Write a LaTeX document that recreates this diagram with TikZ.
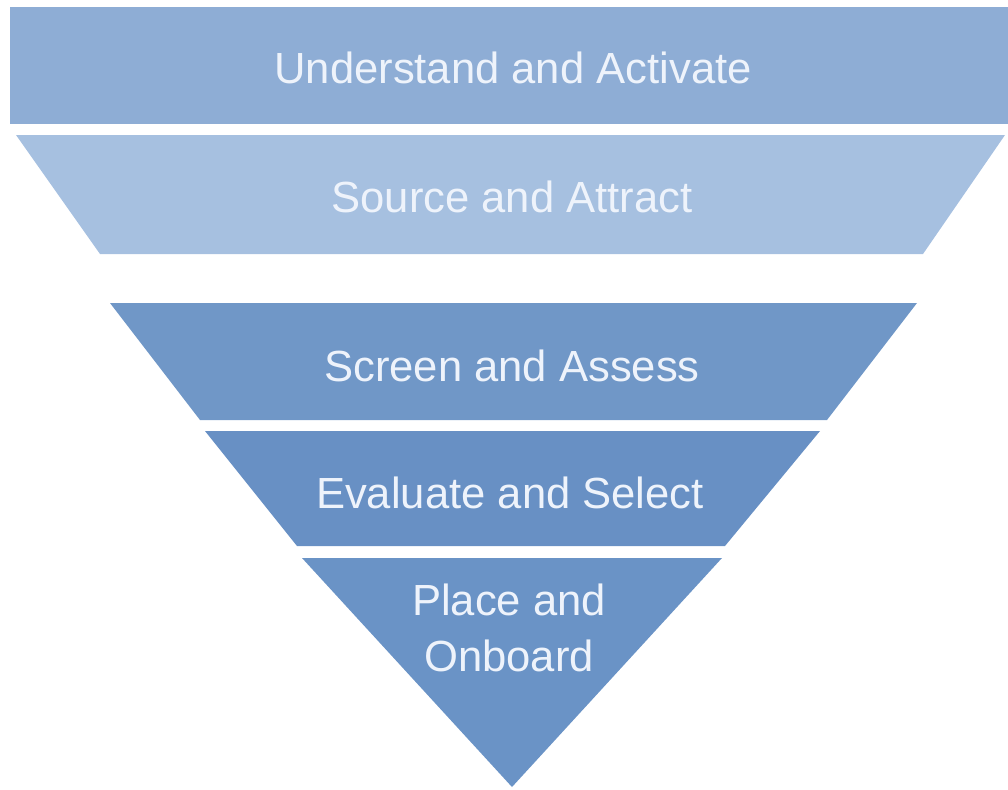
\documentclass[tikz,border=0pt]{standalone}
\usepackage{fontspec}
\setmainfont{Liberation Sans}

\definecolor{topband}{HTML}{8EADD5}
\definecolor{sourceband}{HTML}{A6C0E0}
\definecolor{screenband}{HTML}{7097C7}
\definecolor{evalband}{HTML}{6890C4}
\definecolor{placeband}{HTML}{6A93C6}
\definecolor{bandtext}{HTML}{EEF3FB}

\tikzset{
  stagetext/.style={text=bandtext, inner sep=0pt, anchor=base,
    font=\fontsize{31}{40}\selectfont}
}

\begin{document}
\begin{tikzpicture}[x=0.025cm,y=-0.025cm]

    \useasboundingbox (0,0) rectangle (1008,790);

    \fill[topband]    (10,7) rectangle (1008,124);
    \fill[sourceband] (16,135) -- (1005,135) -- (923,254) -- (100,254) -- cycle;
    \fill[screenband] (110,303) -- (917,303) -- (827,420) -- (200,420) -- cycle;
    \fill[evalband]   (205,431) -- (820,431) -- (725,546) -- (297,546) -- cycle;
    \fill[placeband]  (302,558) -- (722,558) -- (512,787) -- cycle;

    \node[stagetext] (understand) at (513,83)  {Understand and Activate};
    \node[stagetext] (source)     at (512,212) {Source and Attract};
    \node[stagetext] (screen)     at (512,381) {Screen and Assess};
    \node[stagetext] (evaluate)   at (510,508) {Evaluate and Select};
    \node[stagetext, anchor=center, align=center] (place) at (509,628) {Place and\\Onboard};

\end{tikzpicture}
\end{document}
